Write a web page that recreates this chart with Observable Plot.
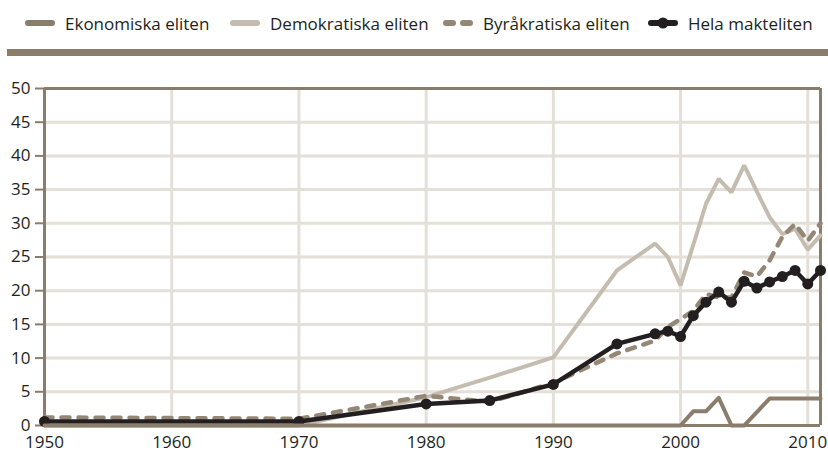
<!DOCTYPE html>
<html>
<head>
<meta charset="utf-8">
<script src="https://cdn.jsdelivr.net/npm/d3@7"></script>
<script src="https://cdn.jsdelivr.net/npm/@observablehq/plot@0.6"></script>
<style>
  html, body { margin: 0; padding: 0; background: #fff; }
  body { width: 828px; height: 453px; position: relative; overflow: hidden; font-family: "Open Sans", sans-serif; color: #231f20; }
  .item { position: absolute; top: 9px; height: 28px; display: flex; align-items: center; font-size: 17px; white-space: nowrap; }
  .item svg { margin-right: 10px; }
  #bar { position: absolute; top: 49px; left: 7px; right: 0; height: 7px; background: #8b7d6b; }
  #chart { position: absolute; top: 60px; left: 0; }
</style>
</head>
<body>
<div id="legend"></div>
<div id="bar"></div>
<div id="chart"></div>
<script>
const years = [1950, 1970, 1980, 1985, 1990, 1995, 1998, 1999, 2000, 2001, 2002, 2003, 2004, 2005, 2006, 2007, 2008, 2009, 2010, 2011];
const ekonomiska   = [0, 0, 0, 0, 0, 0, 0, 0, 0, 2.1, 2.1, 4.1, 0, 0, 2, 4, 4, 4, 4, 4];
const demokratiska = [0, 0, 4.2, 7.1, 10.1, 23, 27, 25, 20.8, 26.8, 32.9, 36.6, 34.6, 38.6, 34.7, 30.9, 28.4, 29.2, 26.1, 28.2];
const byrakratiska = [1.2, 1.0, 4.4, 3.5, 6.3, 10.7, 12.6, 14.6, 15.8, 17.0, 19.5, 19.0, 19.0, 22.7, 22.1, 24.5, 28.0, 29.9, 27.4, 30.0];
const hela         = [0.6, 0.6, 3.2, 3.7, 6.1, 12.1, 13.6, 14.0, 13.2, 16.3, 18.3, 19.8, 18.3, 21.4, 20.4, 21.3, 22.1, 23.0, 21.0, 23.0];

const seriesNames = ["Ekonomiska eliten", "Demokratiska eliten", "Byråkratiska eliten", "Hela makteliten"];
const xTicks = [1950, 1960, 1970, 1980, 1990, 2000, 2010];
const yTicks = [0, 5, 10, 15, 20, 25, 30, 35, 40, 45, 50];
const xDomain = [1950, 2011];
const yDomain = [0, 50];

const brown = "#8b7d6b";
const light = "#c5bcb0";
const dashCol = "#948775";
const black = "#231f20";
const gridCol = "#e4e0d9";

const rows = (vals) => years.map((y, i) => ({year: y, value: vals[i]}));

// Legend
const legendPos = [25, 230, 443, 648];
const legend = document.getElementById("legend");
seriesNames.forEach((name, i) => {
  const d = document.createElement("div");
  d.className = "item";
  d.style.left = legendPos[i] + "px";
  let sw = "";
  if (i === 0) sw = `<line x1="3" y1="8" x2="27" y2="8" stroke="${brown}" stroke-width="6" stroke-linecap="round"/>`;
  if (i === 1) sw = `<line x1="3" y1="8" x2="27" y2="8" stroke="${light}" stroke-width="6" stroke-linecap="round"/>`;
  if (i === 2) sw = `<line x1="3" y1="8" x2="27" y2="8" stroke="${dashCol}" stroke-width="6" stroke-linecap="round" stroke-dasharray="7,10"/>`;
  if (i === 3) sw = `<line x1="3" y1="8" x2="27" y2="8" stroke="${black}" stroke-width="6" stroke-linecap="round"/><circle cx="15" cy="8" r="5.5" fill="${black}"/>`;
  d.innerHTML = `<svg width="30" height="16">${sw}</svg><span>${name}</span>`;
  legend.appendChild(d);
});

const chart = Plot.plot({
  width: 828,
  height: 393,
  marginTop: 28,
  marginBottom: 28,
  marginLeft: 44,
  marginRight: 8,
  style: {fontFamily: "Open Sans, sans-serif", fontSize: "17px", color: black, background: "transparent"},
  x: {domain: xDomain},
  y: {domain: yDomain},
  marks: [
    Plot.ruleY(yTicks.filter(d => d > 0 && d < 50), {stroke: gridCol, strokeWidth: 3}),
    Plot.ruleX(xTicks.filter(d => d > 1950), {stroke: gridCol, strokeWidth: 3}),
    Plot.ruleY([50], {stroke: brown, strokeWidth: 3}),
    Plot.ruleX([xDomain[0], xDomain[1]], {stroke: brown, strokeWidth: 3}),
    Plot.axisY({ticks: yTicks, tickSize: 9, tickPadding: 5, stroke: brown, strokeWidth: 2, strokeOpacity: 1, label: null, fontSize: 17, fill: black}),
    Plot.axisX({ticks: xTicks, tickSize: 0, tickPadding: 10, tickFormat: d => String(d), label: null, fontSize: 17, fill: black}),
    Plot.lineY(rows(demokratiska), {x: "year", y: "value", stroke: light, strokeWidth: 4, strokeLinejoin: "miter"}),
    Plot.lineY(rows(byrakratiska), {x: "year", y: "value", stroke: dashCol, strokeWidth: 4.5, strokeDasharray: "8,9", strokeLinecap: "round"}),
    Plot.lineY(rows(hela), {x: "year", y: "value", stroke: black, strokeWidth: 4.5}),
    Plot.dot(rows(hela), {x: "year", y: "value", r: 5.5, fill: black}),
    Plot.lineY(rows(ekonomiska), {x: "year", y: "value", stroke: brown, strokeWidth: 4}),
    Plot.ruleY([0], {stroke: brown, strokeWidth: 3})
  ]
});
document.getElementById("chart").appendChild(chart);
</script>
</body>
</html>
